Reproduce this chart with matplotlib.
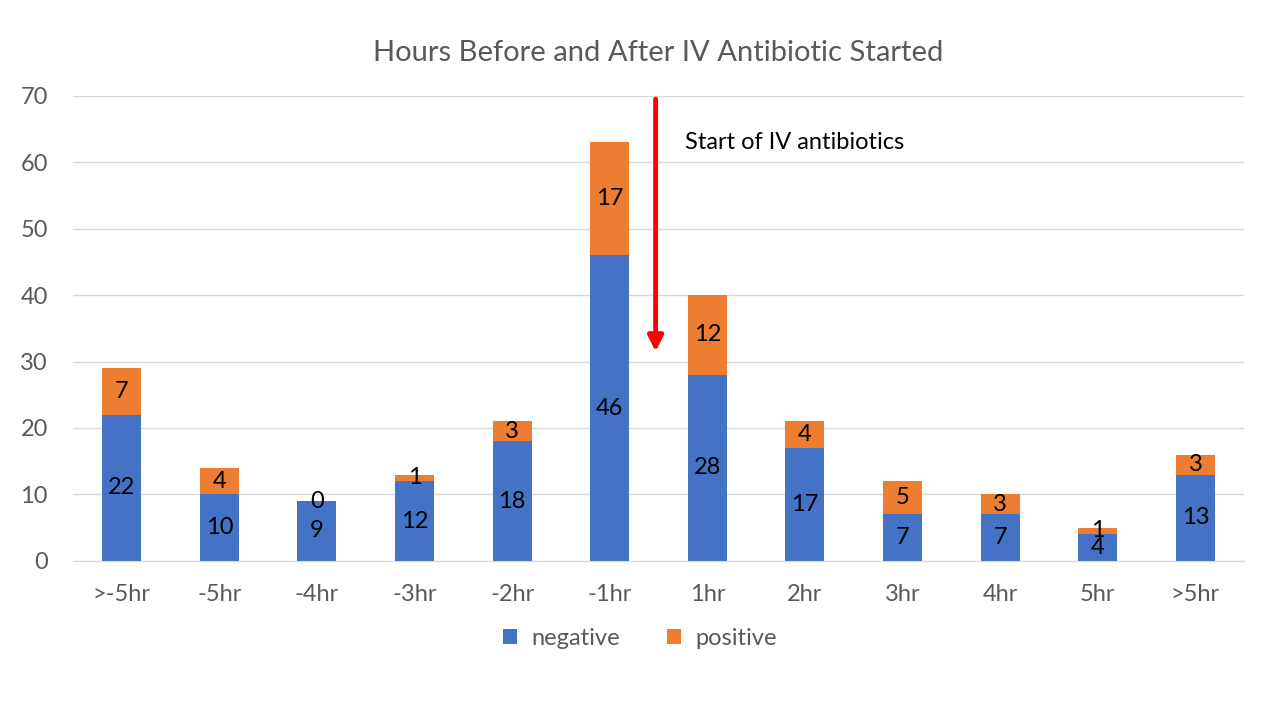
import matplotlib
matplotlib.use("Agg")
import matplotlib.pyplot as plt
import numpy as np

plt.rcParams['font.family'] = ['Lato', 'DejaVu Sans']

categories = [">-5hr", "-5hr", "-4hr", "-3hr", "-2hr", "-1hr", "1hr", "2hr", "3hr", "4hr", "5hr", ">5hr"]
negative = [22, 10, 9, 12, 18, 46, 28, 17, 7, 7, 4, 13]
positive = [7, 4, 0, 1, 3, 17, 12, 4, 5, 3, 1, 3]

BLUE = "#4472C4"
ORANGE = "#ED7D31"
GRAY = "#595959"

fig = plt.figure(figsize=(12.8, 7.2), dpi=100)
ax = fig.add_axes([0.057, 0.221, 0.915, 0.646])

x = np.arange(len(categories))
b1 = ax.bar(x, negative, width=0.4, color=BLUE, label="negative", zorder=2)
b2 = ax.bar(x, positive, width=0.4, bottom=negative, color=ORANGE, label="positive", zorder=2)
ax.bar_label(b1, label_type='center', fontsize=17, color='black')
ax.bar_label(b2, label_type='center', fontsize=17, color='black')

ax.set_xlim(-0.5, len(categories) - 0.5)
ax.set_ylim(0, 70)
ax.set_yticks(np.arange(0, 71, 10))
ax.set_xticks(x)
ax.set_xticklabels(categories)
ax.tick_params(axis='both', length=0, labelsize=17, labelcolor=GRAY)
ax.tick_params(axis='x', pad=17)
ax.tick_params(axis='y', pad=18)
ax.grid(axis='y', color='#D9D9D9', linewidth=1, zorder=0)
for s in ['top', 'right', 'left']:
    ax.spines[s].set_visible(False)
ax.spines['bottom'].set_color('#D9D9D9')

ax.set_title("Hours Before and After IV Antibiotic Started", fontsize=21, color=GRAY, pad=25)

ax.annotate("", xy=(5.47, 31.5), xytext=(5.47, 69.5),
            arrowprops=dict(arrowstyle='-|>,head_width=0.45,head_length=0.9', color='#FF0000', lw=3.5,
                            shrinkA=0, shrinkB=0), zorder=5)
ax.text(5.77, 62.9, "Start of IV antibiotics", fontsize=17, color='black', va='center', ha='left')

leg = fig.legend(handles=[b1, b2], labels=["negative", "positive"], loc='center',
                 bbox_to_anchor=(0.5, 0.113), ncol=2, frameon=False, fontsize=17,
                 handlelength=0.6, handleheight=0.6, columnspacing=2.0, handletextpad=0.6)
for t in leg.get_texts():
    t.set_color(GRAY)

fig.savefig("out.png", dpi=100)
